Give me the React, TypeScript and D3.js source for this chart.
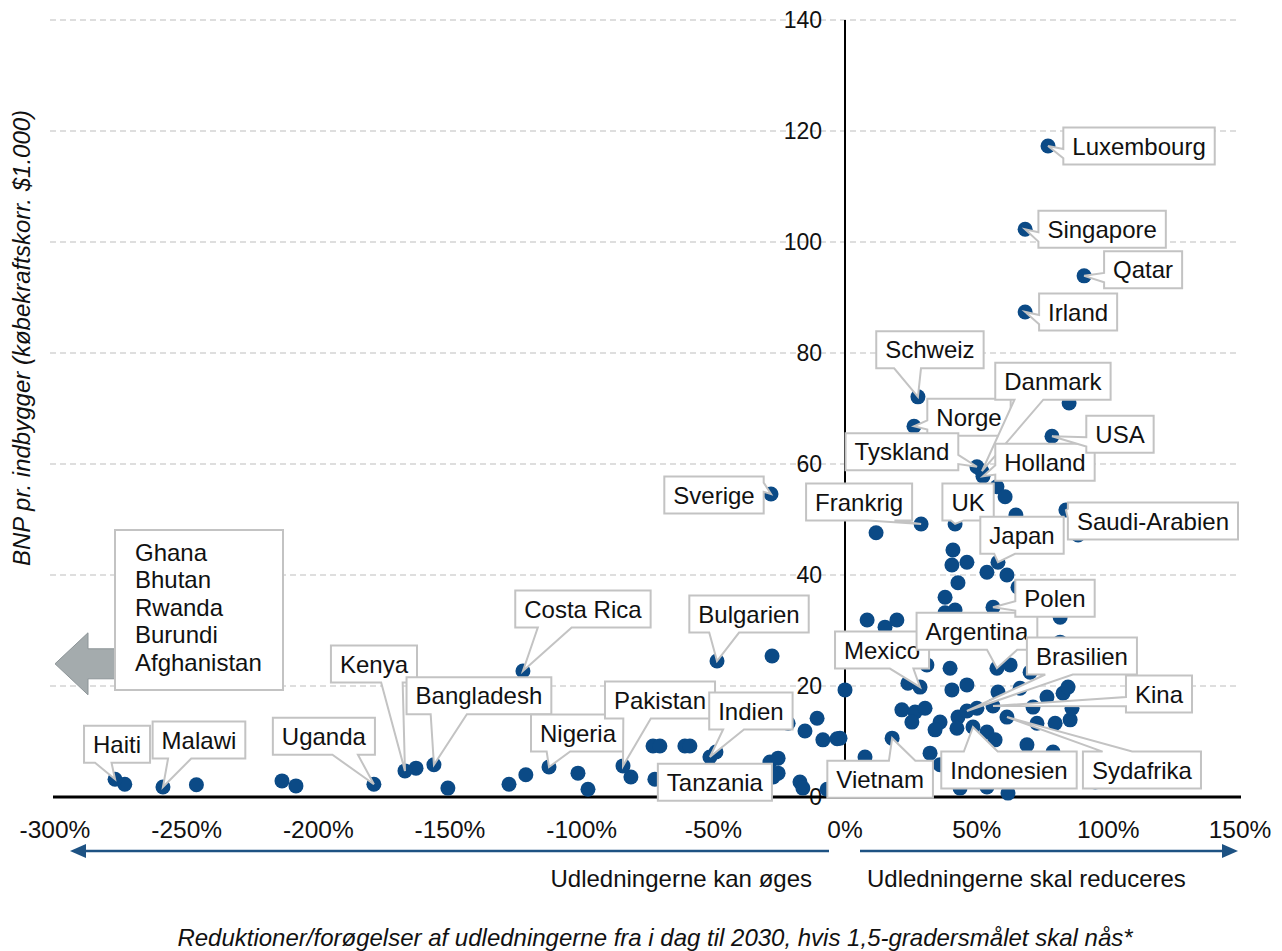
import React, { useEffect, useRef } from 'react';
import * as d3 from 'd3';

// ---- Data ----
const labelNames = [
  'Luxembourg', 'Singapore', 'Qatar', 'Irland', 'Schweiz', 'Norge', 'Danmark', 'Tyskland', 'Holland',
  'UK', 'Frankrig', 'Japan', 'Saudi-Arabien', 'USA', 'Sverige', 'Bulgarien', 'Costa Rica', 'Kenya',
  'Bangladesh', 'Uganda', 'Haiti', 'Malawi', 'Nigeria', 'Pakistan', 'Indien', 'Tanzania', 'Mexico',
  'Argentina', 'Polen', 'Brasilien', 'Kina', 'Sydafrika', 'Indonesien', 'Vietnam',
];
const labelX = [
  77.1, 68.4, 90.8, 68.4, 27.7, 26.2, 52.0, 50.1, 52.4,
  41.8, 28.9, 58.1, 83.9, 78.6, -28.1, -48.6, -122.3, -167.1,
  -156.1, -178.9, -277.2, -259.0, -112.4, -84.3, -51.3, -58.9, 28.5,
  57.7, 56.2, 46.3, 56.2, 61.5, 48.6, 17.9,
];
const labelY = [
  117.3, 102.3, 93.9, 87.4, 72.1, 66.8, 58.7, 59.5, 57.8,
  49.2, 49.2, 42.3, 51.7, 65.0, 54.6, 24.5, 22.7, 4.7,
  5.8, 2.3, 3.2, 1.8, 5.4, 5.6, 7.2, 3.2, 19.8,
  23.2, 34.2, 15.5, 16.4, 14.4, 12.6, 10.6,
];
const otherX = [
  85.1, 11.8, 88.5, 64.9, 57.7, 60.8, 41.0, 40.6, 46.3, 53.9, 61.5, 42.9, 38.0, 41.8, 38.0, 65.7,
  81.7, 81.7, 8.4, 15.2, 19.7, 23.9, 31.1, 39.9, 40.6, 46.3, 62.7, 70.3, 58.1, 66.5, 21.6, 26.6,
  30.4, 25.4, 36.1, 34.2, 42.9, 50.1, 42.5, 53.9, 57.0, 32.3, 36.1, 69.1, 72.9, 79.8, 85.5, 71.4,
  76.7, 82.8, 84.7, 86.2, 79.0, 43.7, 53.9, 61.9, 95.0, -1.9, 0.0, 7.6, -10.6, -21.6, -15.2, -8.4,
  -3.0, -27.7, -28.5, -25.4, -25.4, -27.3, -17.1, -16.0, -6.8, -72.9, -70.3, -60.8, -58.9, -49.0,
  -81.3, -101.4, -97.6, -127.6, -121.2, -150.8, -162.9, -213.8, -208.5, -246.3, -273.5, -72.2,
];
const otherY = [
  71.0, 47.6, 47.2, 50.8, 55.9, 54.1, 44.5, 41.8, 42.3, 40.5, 40.0, 38.6, 36.0, 33.7, 33.2, 37.8,
  32.4, 27.9, 31.9, 30.6, 31.9, 20.5, 23.8, 23.2, 19.3, 20.2, 23.8, 22.5, 18.9, 19.6, 15.7, 15.3,
  16.0, 13.5, 13.5, 12.1, 14.4, 16.0, 12.4, 11.7, 10.3, 7.9, 5.8, 9.4, 13.3, 13.3, 13.9, 16.2,
  18.0, 18.7, 19.8, 16.0, 8.1, 1.6, 1.8, 0.7, 2.7, 10.6, 19.3, 7.2, 14.2, 13.3, 11.9, 10.3,
  10.5, 25.4, 6.3, 7.0, 4.3, 3.6, 2.7, 1.6, 1.4, 9.2, 9.2, 9.2, 9.2, 8.1,
  3.6, 4.3, 1.4, 2.3, 4.0, 1.6, 5.2, 2.9, 2.0, 2.2, 2.3, 3.2,
];
const xTicks = [-300, -250, -200, -150, -100, -50, 0, 50, 100, 150];
const yTicks = [0, 20, 40, 60, 80, 100, 120, 140];
const offChartCountries = ['Ghana', 'Bhutan', 'Rwanda', 'Burundi', 'Afghanistan'];
const yTitle = 'BNP pr. indbygger (købekraftskorr. $1.000)';
const xTitle = 'Reduktioner/forøgelser af udledningerne fra i dag til 2030, hvis 1,5-gradersmålet skal nås*';
const leftArrowText = 'Udledningerne kan øges';
const rightArrowText = 'Udledningerne skal reduceres';

// ---- Layout (label box centre offsets from the dot, px) ----
const labelOffsets: [number, number][] = [
  [91, 0], [77, 0], [59, -6], [53, 0], [12, -47], [55, -9], [71, -90], [-75, -15], [62, -14],
  [13, -22], [-62, -22], [24, -27], [87, 11], [68, -2], [-57, 1], [32, -47], [60, -62], [-31, -107],
  [45, -69], [-50, -48], [2, -35], [36, -47], [29, -34], [37, -66], [41, -46], [25, 3], [-38, -37],
  [-20, -37], [62, -9], [115, -55], [166, -12], [135, 53], [36, 43], [-12, 41],
];

const W = 1282;
const H = 951;
const FONT = "'Liberation Sans', Arial, Helvetica, sans-serif";
const FS = 24;
const DOT = '#0b4a86';
const BOXSTROKE = '#c3c3c3';

function calloutPath(l: number, t: number, w: number, h: number, tx: number, ty: number) {
  const r = l + w, b = t + h;
  const cx = l + w / 2, cy = t + h / 2;
  const inside = tx >= l && tx <= r && ty >= t && ty <= b;
  if (inside) return `M${l},${t}L${r},${t}L${r},${b}L${l},${b}Z`;
  const dx = (tx - cx) / w, dy = (ty - cy) / h;
  if (Math.abs(dx) < Math.abs(dy)) {
    const xa = dx < 0 ? l + w / 6 : l + (w * 7) / 12;
    const xb = dx < 0 ? l + (w * 5) / 12 : l + (w * 5) / 6;
    if (dy < 0) return `M${l},${t}L${xa},${t}L${tx},${ty}L${xb},${t}L${r},${t}L${r},${b}L${l},${b}Z`;
    return `M${l},${t}L${r},${t}L${r},${b}L${xb},${b}L${tx},${ty}L${xa},${b}L${l},${b}Z`;
  }
  const ya = dy < 0 ? t + h / 6 : t + (h * 7) / 12;
  const yb = dy < 0 ? t + (h * 5) / 12 : t + (h * 5) / 6;
  if (dx < 0) return `M${l},${t}L${r},${t}L${r},${b}L${l},${b}L${l},${yb}L${tx},${ty}L${l},${ya}Z`;
  return `M${l},${t}L${r},${t}L${r},${ya}L${tx},${ty}L${r},${yb}L${r},${b}L${l},${b}Z`;
}

export default function App() {
  const ref = useRef<SVGSVGElement | null>(null);

  useEffect(() => {
    const svg = d3.select(ref.current);
    svg.selectAll('*').remove();

    const x = d3.scaleLinear().domain([-300, 150]).range([55, 1240]);
    const y = d3.scaleLinear().domain([0, 140]).range([797, 20]);

    // gridlines
    svg.append('g').selectAll('line').data(yTicks.filter((d) => d > 0)).join('line')
      .attr('x1', 50).attr('x2', 1240)
      .attr('y1', (d) => y(d)).attr('y2', (d) => y(d))
      .attr('stroke', '#d4d4d4').attr('stroke-width', 1.5).attr('stroke-dasharray', '6 4');

    // y tick labels
    svg.append('g').selectAll('text').data(yTicks).join('text')
      .attr('x', x(0) - 23).attr('y', (d) => y(d)).attr('dy', '0.35em')
      .attr('text-anchor', 'end').attr('font-family', FONT).attr('font-size', 23).attr('fill', '#111')
      .text((d) => String(d));

    // axes lines
    svg.append('line').attr('x1', x(0)).attr('x2', x(0)).attr('y1', y(140)).attr('y2', y(0))
      .attr('stroke', '#000').attr('stroke-width', 2);
    svg.append('line').attr('x1', 53).attr('x2', 1241).attr('y1', y(0)).attr('y2', y(0))
      .attr('stroke', '#000').attr('stroke-width', 3);

    // x tick labels
    svg.append('g').selectAll('text').data(xTicks).join('text')
      .attr('x', (d) => x(d)).attr('y', 838)
      .attr('text-anchor', 'middle').attr('font-family', FONT).attr('font-size', 24.5).attr('fill', '#111')
      .text((d) => `${d}%`);

    // dots
    const allX = otherX.concat(labelX);
    const allY = otherY.concat(labelY);
    svg.append('g').selectAll('circle').data(allX.map((v, i) => [v, allY[i]])).join('circle')
      .attr('cx', (d) => x(d[0])).attr('cy', (d) => y(d[1])).attr('r', 7.5).attr('fill', DOT);

    // callouts
    const cg = svg.append('g');
    labelNames.forEach((name, i) => {
      const px = x(labelX[i]);
      const py = y(labelY[i]);
      const [ox, oy] = labelOffsets[i];
      const g = cg.append('g');
      const path = g.append('path');
      const txt = g.append('text').attr('font-family', FONT).attr('font-size', FS).attr('fill', '#111')
        .attr('text-anchor', 'middle').text(name);
      const tw = (txt.node() as SVGTextElement).getComputedTextLength();
      const bw = tw + 18;
      const bh = 37;
      const cx = px + ox;
      const cy = py + oy;
      txt.attr('x', cx).attr('y', cy).attr('dy', '0.36em');
      path.attr('d', calloutPath(cx - bw / 2, cy - bh / 2, bw, bh, px, py))
        .attr('fill', '#fff').attr('stroke', BOXSTROKE).attr('stroke-width', 2)
        .attr('stroke-linejoin', 'miter');
    });

    // off-chart annotation: grey arrow + list box
    const ay = y(24);
    const ax = x(-300);
    svg.append('path')
      .attr('d', `M${ax},${ay}L${ax + 33},${ay - 31}L${ax + 33},${ay - 15}L${ax + 66},${ay - 15}L${ax + 66},${ay + 15}L${ax + 33},${ay + 15}L${ax + 33},${ay + 31}Z`)
      .attr('fill', '#a4abad').attr('stroke', '#8d9598').attr('stroke-width', 1);
    svg.append('rect').attr('x', 115).attr('y', 530).attr('width', 168).attr('height', 160)
      .attr('fill', '#fff').attr('stroke', BOXSTROKE).attr('stroke-width', 2);
    svg.append('g').selectAll('text').data(offChartCountries).join('text')
      .attr('x', 135).attr('y', (_d, i) => 561 + i * 27.4)
      .attr('font-family', FONT).attr('font-size', FS).attr('fill', '#111')
      .text((d) => d);

    // direction arrows
    const ARROW = '#1d5283';
    const arY = 851;
    svg.append('line').attr('x1', x(0) - 16).attr('x2', 80).attr('y1', arY).attr('y2', arY)
      .attr('stroke', ARROW).attr('stroke-width', 2.5);
    svg.append('path').attr('d', `M70,${arY}L86,${arY - 7}L86,${arY + 7}Z`).attr('fill', ARROW);
    svg.append('line').attr('x1', x(0) + 15).attr('x2', 1228).attr('y1', arY).attr('y2', arY)
      .attr('stroke', ARROW).attr('stroke-width', 2.5);
    svg.append('path').attr('d', `M1238,${arY}L1222,${arY - 7}L1222,${arY + 7}Z`).attr('fill', ARROW);

    svg.append('text').attr('x', x(0) - 33).attr('y', 887).attr('text-anchor', 'end')
      .attr('font-family', FONT).attr('font-size', FS).attr('fill', '#111').text(leftArrowText);
    svg.append('text').attr('x', x(0) + 22).attr('y', 887).attr('text-anchor', 'start')
      .attr('font-family', FONT).attr('font-size', FS).attr('fill', '#111').text(rightArrowText);

    // titles
    svg.append('text').attr('x', 655).attr('y', 946).attr('text-anchor', 'middle')
      .attr('font-family', FONT).attr('font-size', FS).attr('font-style', 'italic').attr('fill', '#111')
      .text(xTitle);
    svg.append('text').attr('transform', 'translate(30,338) rotate(-90)').attr('text-anchor', 'middle')
      .attr('font-family', FONT).attr('font-size', FS).attr('font-style', 'italic').attr('fill', '#111')
      .text(yTitle);
  }, []);

  return (
    <svg ref={ref} width={W} height={H} viewBox={`0 0 ${W} ${H}`}
      style={{ position: 'absolute', left: 0, top: 0, background: '#fff' }} />
  );
}
